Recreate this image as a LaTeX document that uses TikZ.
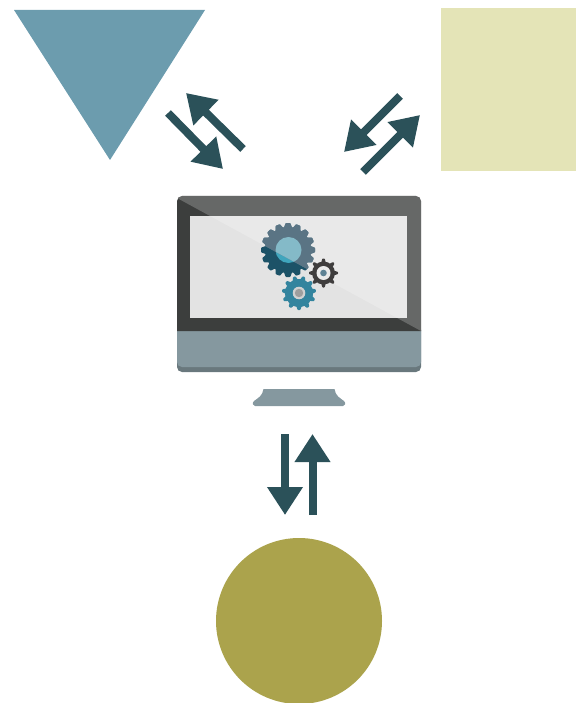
\documentclass[tikz,border=0pt]{standalone}
\usepackage{xcolor}
\usetikzlibrary{arrows.meta}

\definecolor{arrowteal}{HTML}{2B5159}
\definecolor{triblue}{HTML}{6C9CAE}
\definecolor{squarecol}{HTML}{E4E4B7}
\definecolor{discol}{HTML}{ABA34C}
\definecolor{bezelcol}{HTML}{3C3E3D}
\definecolor{chincol}{HTML}{85989F}
\definecolor{bandcol}{HTML}{69787D}
\definecolor{screencol}{HTML}{E3E3E3}
\definecolor{gearbig}{HTML}{1C5267}
\definecolor{gearbigup}{HTML}{5A7484}
\definecolor{hubbig}{HTML}{3FA5BD}
\definecolor{hubbigup}{HTML}{84BAC8}
\definecolor{gearsmall}{HTML}{3F3D3D}
\definecolor{hubsmall}{HTML}{5F8395}
\definecolor{gearteal}{HTML}{33849E}

\tikzset{
    flow/.style={draw=arrowteal, line width=8pt, -{Triangle[length=28pt,width=34pt,fill=arrowteal]}},
    block/.style={inner sep=0pt, outer sep=0pt, draw=none}
}

% one gear: x, y, root radius, tip radius, teeth, colour
\newcommand{\drawgear}[6]{
    \fill[#6] (#1,#2) circle (#3);
    \foreach \a in {1,...,#5} {
        \fill[#6, shift={(#1,#2)}, rotate=\a*360/#5, rounded corners=0.7pt]
            (-0.2*#3,0.9*#3) -- (-0.1*#3,#4) -- (0.1*#3,#4) -- (0.2*#3,0.9*#3) -- cycle;
    }
}

\begin{document}
\begin{tikzpicture}[x=1pt,y=-1pt]
    \useasboundingbox (0,0) rectangle (576,703);

    % Outer shapes
    \fill[triblue] (14,10) -- (205,10) -- (110,160) -- cycle;
    \node[block, fill=squarecol, minimum width=135pt, minimum height=163pt] (square) at (508.5,89.5) {};
    \node[block, fill=discol, shape=circle, minimum size=166pt] (disc) at (299,621) {};

    % Monitor
    \fill[bandcol, rounded corners=5pt] (177,325) rectangle (421,372);
    \fill[chincol, rounded corners=5pt] (177,325) rectangle (421,367);
    \fill[bezelcol] (177,331) [rounded corners=5pt] -- (177,196) -- (421,196) [sharp corners] -- (421,331) -- cycle;
    \node[block, fill=screencol, minimum width=217pt, minimum height=102pt] (screen) at (298.5,267) {};
    \fill[chincol] (263.5,389) -- (334.5,389) .. controls (335.5,396) and (340,398) .. (344,401)
        .. controls (346,403) and (345.5,406) .. (343,406) -- (255,406)
        .. controls (252.5,406) and (252,403) .. (254,401)
        .. controls (258,398) and (262.5,396) .. (263.5,389) -- cycle;

    % Gears
    \drawgear{288}{250}{23}{27}{16}{gearbig}
    \fill[hubbig] (288.5,250) circle (13);
    \drawgear{299}{293}{14}{17}{11}{gearteal}
    \fill[white!82!black] (299,293) circle (6.3);
    \fill[black!38] (299,293) circle (4.2);

    % Highlight
    \fill[white, opacity=0.22] (177,198) -- (421,331) [rounded corners=5pt] -- (421,196) -- (177,196) [sharp corners] -- cycle;
    \begin{scope}
        \clip (177,198) -- (421,331) -- (421,196) -- (177,196) -- cycle;
        \drawgear{288}{250}{23}{27}{16}{gearbigup}
        \fill[hubbigup] (288.5,250) circle (13);
    \end{scope}
    \drawgear{323.5}{273}{11.5}{14.5}{8}{gearsmall}
    \fill[white!92!black] (323.5,273) circle (7);
    \fill[hubsmall] (323.5,273) circle (3.3);

    % Arrows
    \coordinate (inA) at (168,113);
    \coordinate (outA) at (223,169);
    \coordinate (inB) at (243,149);
    \coordinate (outB) at (186,93);
    \coordinate (inC) at (400,96);
    \coordinate (outC) at (344,152);
    \coordinate (inD) at (363,172);
    \coordinate (outD) at (420,115);
    \coordinate (inE) at (285,434);
    \coordinate (outE) at (285,515);
    \coordinate (inF) at (312.5,515);
    \coordinate (outF) at (312.5,434);

    \draw[flow] (inA) -- (outA);
    \draw[flow] (inB) -- (outB);
    \draw[flow] (inC) -- (outC);
    \draw[flow] (inD) -- (outD);
    \draw[flow] (inE) -- (outE);
    \draw[flow] (inF) -- (outF);
\end{tikzpicture}
\end{document}
